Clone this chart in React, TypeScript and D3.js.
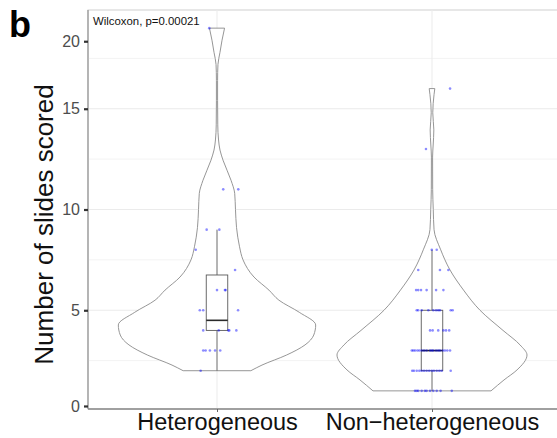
import React, { useEffect, useRef } from 'react';
import * as d3 from 'd3';

const categories = ['Heterogeneous', 'Non\u2212heterogeneous'];
const yTickValues = [0, 5, 10, 15, 20];
const yMinorValues = [2.5, 7.5, 12.5, 17.5];
const testLabel = 'Wilcoxon, p=0.00021';
const panelLabel = 'b';
const yTitle = 'Number of slides scored';

// violin outlines: value, relative half-width (1 = 0.45 of category step)
const hetViolinValues = [19, 18.4, 17.8, 17.2, 16.4, 15.4, 14.2, 13.45, 12.95, 12.45, 11.45, 10.8, 10, 9.1, 8.15, 7.5, 6.65, 6.0, 5.5, 4.9, 4.27, 3.77, 3.28, 2.78, 2.28, 2.0];
const hetViolinWidths = [0.078, 0.052, 0.031, 0.01, 0.006, 0.006, 0.008, 0.016, 0.031, 0.062, 0.145, 0.183, 0.191, 0.202, 0.233, 0.269, 0.382, 0.537, 0.64, 0.85, 1.02, 1.0, 0.91, 0.72, 0.465, 0.35];
const nonViolinValues = [16, 15.7, 14.8, 13.95, 13.2, 12.6, 11, 10, 9, 8, 7, 6, 5, 4, 3.28, 2.78, 2.04, 1.54, 1.0];
const nonViolinWidths = [0.029, 0.021, 0.008, 0.019, 0.012, 0.006, 0.007, 0.013, 0.021, 0.09, 0.186, 0.326, 0.496, 0.734, 0.91, 0.982, 0.879, 0.744, 0.61];

// boxplot stats per category
const boxLow = [2, 1];
const boxQ1 = [4, 2];
const boxMedian = [4.5, 3];
const boxQ3 = [6.75, 5];
const boxHigh = [9, 8];

// jittered points: value and horizontal jitter (category units)
const hetValues = [19, 11, 11, 9, 9, 8, 7, 6, 6, 6, 5, 5, 5, 4, 4, 4, 4, 4, 3, 3, 3, 3, 3, 2];
const hetJitter = [-0.036, 0.029, 0.099, -0.048, 0.011, -0.099, 0.084, 0, 0.037, 0.04, -0.08, -0.064, 0.098, -0.064, 0.008, 0.053, 0.057, 0.09, -0.064, -0.053, -0.033, -0.009, 0.015, -0.076];
const nonValues = [
  16, 13, 8, 8, 7, 7, 7,
  6, 6, 6, 6, 6, 6,
  5, 5, 5, 5, 5, 5, 5, 5, 5, 5,
  4, 4, 4, 4, 4, 4,
  3, 3, 3, 3, 3, 3, 3, 3, 3, 3, 3, 3, 3, 3, 3, 3, 3, 3,
  2, 2, 2, 2, 2, 2, 2, 2, 2, 2, 2, 2, 2, 2,
  1, 1, 1, 1, 1, 1, 1, 1, 1, 1, 1,
];
const nonJitter = [
  0.084, -0.028, -0.001, 0.022, -0.064, 0.037, 0.076,
  -0.074, -0.064, -0.051, -0.025, 0.019, 0.053,
  -0.071, -0.064, -0.048, -0.017, 0.006, 0.019, 0.029, 0.037, 0.087, 0.096,
  -0.009, 0.003, 0.029, 0.053, 0.065, 0.08,
  -0.094, -0.087, -0.079, -0.068, -0.059, -0.048, -0.037, -0.025, -0.009, -0.001, 0.006, 0.019, 0.029, 0.037, 0.05, 0.06, 0.071, 0.084,
  -0.092, -0.084, -0.071, -0.059, -0.048, -0.037, -0.025, -0.013, -0.001, 0.009, 0.022, 0.034, 0.045, 0.087,
  -0.079, -0.071, -0.064, -0.048, -0.033, -0.025, -0.009, 0.006, 0.022, 0.04, 0.092,
];

const font = 'Liberation Sans, Arial, Helvetica, sans-serif';

const App = () => {
  const svgRef = useRef(null);

  useEffect(() => {
    const svg = d3.select(svgRef.current);
    svg.selectAll('*').remove();

    const width = 557;
    const height = 438;
    const margin = { top: 10, right: -4, bottom: 29, left: 88 };
    const left = margin.left;
    const right = width - margin.right;
    const top = margin.top;
    const bottom = height - margin.bottom;

    const x = d3.scalePoint().domain(categories).range([left, right]).padding(0.6);
    const y = d3.scaleLinear().domain([0.1, 19.9]).range([bottom, top]);
    const step = x.step();
    const halfW = d3.scaleLinear().domain([0, 1]).range([0, step * 0.45]);
    // tick labels sit where the figure has them (0 and 20 pulled inside the panel)
    const yLab = d3.scaleLinear().domain(yTickValues).range([y(0.25), y(5), y(10), y(15), y(18.35)]);

    // panel
    svg.append('rect').attr('x', left).attr('y', top).attr('width', right - left).attr('height', bottom - top)
      .attr('fill', 'white').attr('stroke', '#d0d0d0').attr('stroke-width', 1);

    // grid
    const grid = svg.append('g');
    grid.selectAll('.minor').data(yMinorValues).enter().append('line')
      .attr('x1', left).attr('x2', right).attr('y1', (d) => y(d)).attr('y2', (d) => y(d))
      .attr('stroke', '#f3f3f3').attr('stroke-width', 1);
    grid.selectAll('.major').data([5, 10, 15]).enter().append('line')
      .attr('x1', left).attr('x2', right).attr('y1', (d) => y(d)).attr('y2', (d) => y(d))
      .attr('stroke', '#ebebeb').attr('stroke-width', 1);
    grid.selectAll('.vmajor').data(categories).enter().append('line')
      .attr('x1', (d) => x(d)).attr('x2', (d) => x(d)).attr('y1', top).attr('y2', bottom)
      .attr('stroke', '#ebebeb').attr('stroke-width', 1);

    // violins
    const violins = [
      { cat: categories[0], v: hetViolinValues, w: hetViolinWidths },
      { cat: categories[1], v: nonViolinValues, w: nonViolinWidths },
    ];
    violins.forEach((g) => {
      const cx = x(g.cat);
      const pts = g.v.map((v, i) => [v, g.w[i]]);
      const area = d3.area()
        .y((d) => y(d[0]))
        .x0((d) => cx - halfW(d[1]))
        .x1((d) => cx + halfW(d[1]))
        .curve(d3.curveMonotoneY);
      svg.append('path').attr('d', area(pts)).attr('fill', 'white')
        .attr('stroke', '#8a8a8a').attr('stroke-width', 0.9);
    });

    // boxplots
    const boxW = step * 0.1;
    categories.forEach((c, i) => {
      const cx = x(c);
      const g = svg.append('g').attr('stroke', '#5a5a5a').attr('stroke-width', 0.9);
      g.append('line').attr('x1', cx).attr('x2', cx).attr('y1', y(boxQ3[i])).attr('y2', y(boxHigh[i]));
      g.append('line').attr('x1', cx).attr('x2', cx).attr('y1', y(boxQ1[i])).attr('y2', y(boxLow[i]));
      g.append('rect').attr('x', cx - boxW / 2).attr('width', boxW)
        .attr('y', y(boxQ3[i])).attr('height', y(boxQ1[i]) - y(boxQ3[i])).attr('fill', 'white');
      g.append('line').attr('x1', cx - boxW / 2).attr('x2', cx + boxW / 2)
        .attr('y1', y(boxMedian[i])).attr('y2', y(boxMedian[i]))
        .attr('stroke', '#2a2a2a').attr('stroke-width', 1.6);
    });

    // jittered points
    const points = [
      ...hetValues.map((v, i) => ({ cat: categories[0], v, j: hetJitter[i] })),
      ...nonValues.map((v, i) => ({ cat: categories[1], v, j: nonJitter[i] })),
    ];
    svg.append('g').selectAll('circle').data(points).enter().append('circle')
      .attr('cx', (d) => x(d.cat) + d.j * step)
      .attr('cy', (d) => y(d.v))
      .attr('r', 1.3)
      .attr('fill', '#0000ff')
      .attr('fill-opacity', 0.45);

    // axes
    svg.append('line').attr('x1', left).attr('x2', left).attr('y1', top).attr('y2', bottom)
      .attr('stroke', '#999').attr('stroke-width', 1.3);
    svg.append('line').attr('x1', left).attr('x2', right).attr('y1', bottom).attr('y2', bottom)
      .attr('stroke', '#888').attr('stroke-width', 1.3);

    const yAxis = svg.append('g').attr('transform', `translate(${left},0)`)
      .call(d3.axisLeft(yLab).tickValues(yTickValues).tickSize(4).tickPadding(4));
    yAxis.select('.domain').remove();
    yAxis.selectAll('line').attr('stroke', '#333').attr('stroke-width', 2.2);
    yAxis.selectAll('text').attr('fill', '#4d4d4d').style('font-family', font).style('font-size', '16px');

    const xAxis = svg.append('g').attr('transform', `translate(0,${bottom})`)
      .call(d3.axisBottom(x).tickSize(3).tickPadding(5));
    xAxis.select('.domain').remove();
    xAxis.selectAll('line').attr('stroke', '#666').attr('stroke-width', 1);
    xAxis.selectAll('text').attr('fill', '#111').attr('dy', 0).attr('y', 21)
      .style('font-family', font).style('font-size', '23.5px');

    // titles and labels
    svg.append('text').attr('transform', `translate(53,${(top + bottom) / 2 + 15}) rotate(-90)`)
      .attr('text-anchor', 'middle').style('font-family', font).style('font-size', '26px')
      .attr('fill', '#111').text(yTitle);

    svg.append('text').attr('x', left + 5).attr('y', 25).style('font-family', font)
      .style('font-size', '11.4px').attr('fill', '#111').text(testLabel);

    svg.append('text').attr('x', 9).attr('y', 37).style('font-family', font)
      .style('font-size', '36px').style('font-weight', 'bold').attr('fill', '#000').text(panelLabel);
  }, []);

  return (
    <svg ref={svgRef} width={557} height={438} style={{ position: 'absolute', left: 0, top: 0, display: 'block' }}></svg>
  );
};

export default App;
